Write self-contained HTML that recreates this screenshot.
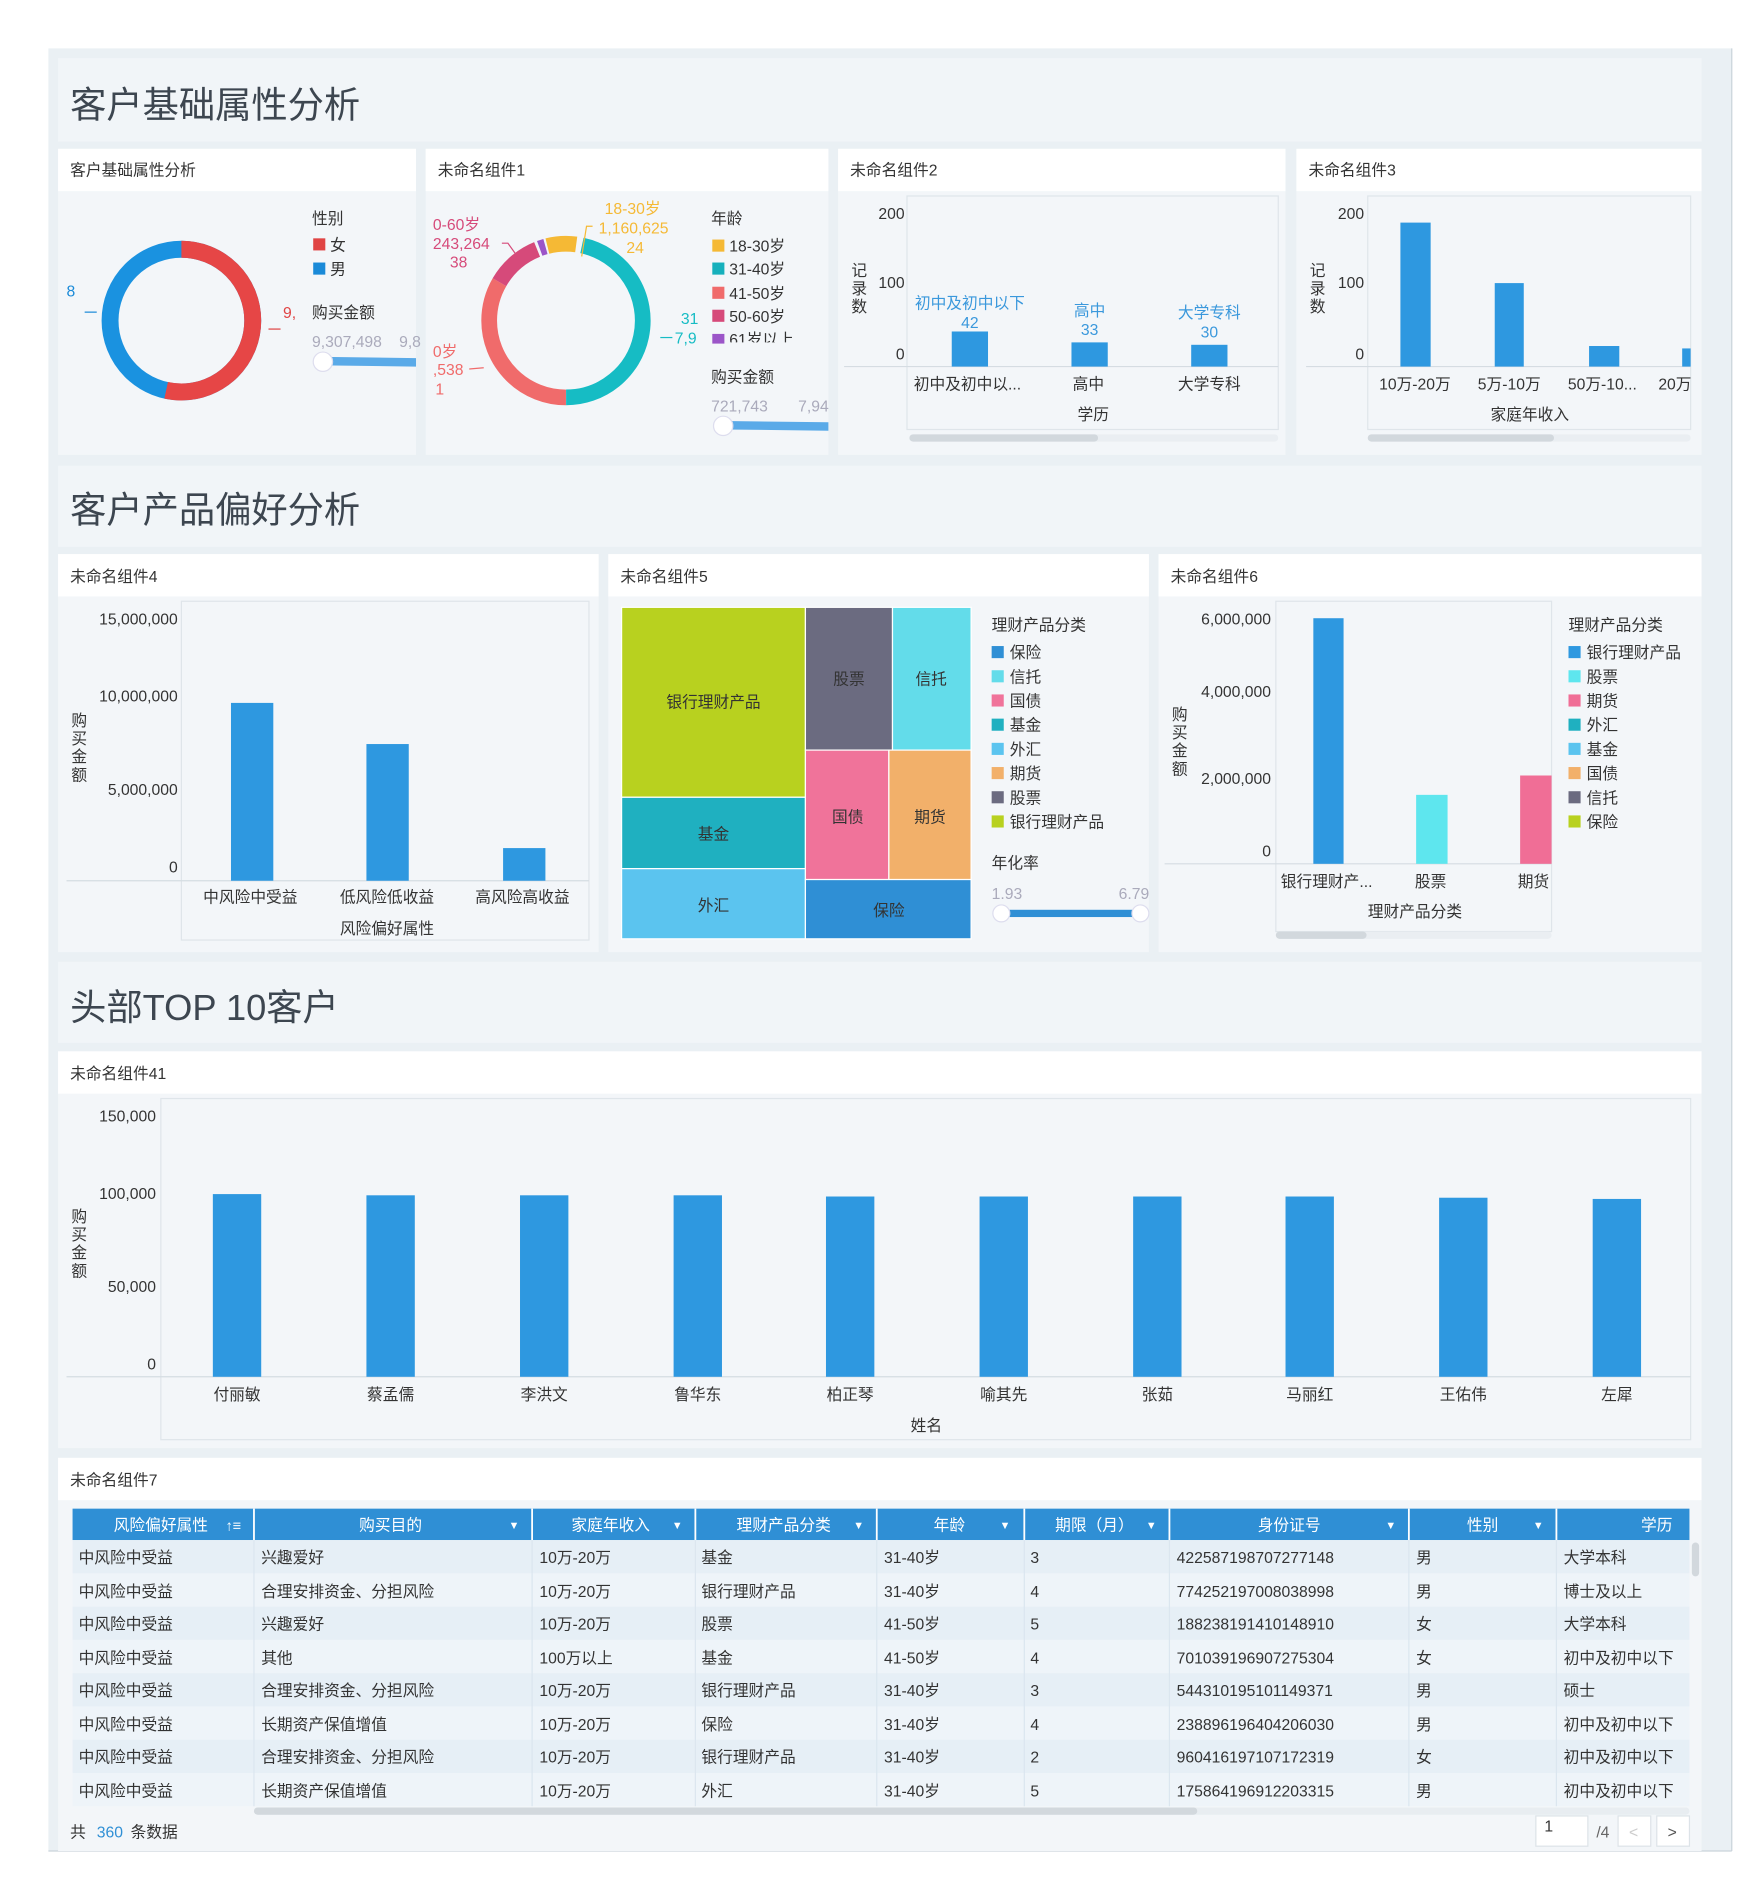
<!DOCTYPE html>
<html><head><meta charset="utf-8"><style>
html,body{margin:0;padding:0;background:#fff;}
svg{display:block;font-family:"Liberation Sans","Noto Sans CJK SC",sans-serif;}
</style></head><body>
<svg width="1762" height="1897" viewBox="0 0 1457 1568" preserveAspectRatio="none" xmlns="http://www.w3.org/2000/svg">
<rect width="1457" height="1568" fill="#fff"/>
<rect x="40" y="40" width="1392" height="1490" fill="#eaf0f4"/>
<line x1="1432" y1="40" x2="1432" y2="1530" stroke="#c9d3da"/>
<line x1="40" y1="1530" x2="1432" y2="1530" stroke="#c9d3da"/>
<!-- section headers -->
<rect x="48" y="48" width="1359" height="69" fill="#f1f5f8"/>
<text x="58" y="97" font-size="30" fill="#3d4650">客户基础属性分析</text>
<rect x="48" y="385" width="1359" height="67" fill="#f1f5f8"/>
<text x="58" y="432" font-size="30" fill="#3d4650">客户产品偏好分析</text>
<rect x="48" y="795" width="1359" height="67" fill="#f1f5f8"/>
<text x="58" y="843" font-size="30" fill="#3d4650">头部TOP 10客户</text>

<g font-size="13" fill="#333">
<rect x="48" y="123" width="296" height="253" fill="#f3f6f9"/><rect x="48" y="123" width="296" height="35" fill="#fff"/>
<text x="58" y="145">客户基础属性分析</text>
<rect x="352" y="123" width="333" height="253" fill="#f3f6f9"/><rect x="352" y="123" width="333" height="35" fill="#fff"/>
<text x="362" y="145">未命名组件1</text>
<rect x="693" y="123" width="370" height="253" fill="#f3f6f9"/><rect x="693" y="123" width="370" height="35" fill="#fff"/>
<text x="703" y="145">未命名组件2</text>
<rect x="1072" y="123" width="335" height="253" fill="#f3f6f9"/><rect x="1072" y="123" width="335" height="35" fill="#fff"/>
<text x="1082" y="145">未命名组件3</text>
<rect x="48" y="458" width="447" height="329" fill="#f3f6f9"/><rect x="48" y="458" width="447" height="35" fill="#fff"/>
<text x="58" y="481">未命名组件4</text>
<rect x="503" y="458" width="447" height="329" fill="#f3f6f9"/><rect x="503" y="458" width="447" height="35" fill="#fff"/>
<text x="513" y="481">未命名组件5</text>
<rect x="958" y="458" width="449" height="329" fill="#f3f6f9"/><rect x="958" y="458" width="449" height="35" fill="#fff"/>
<text x="968" y="481">未命名组件6</text>
<rect x="48" y="869" width="1359" height="328" fill="#f3f6f9"/><rect x="48" y="869" width="1359" height="35" fill="#fff"/>
<text x="58" y="892">未命名组件41</text>
<rect x="48" y="1205" width="1359" height="325" fill="#f3f6f9"/><rect x="48" y="1205" width="1359" height="35" fill="#fff"/>
<text x="58" y="1228">未命名组件7</text>
</g>

<!-- donut 1 -->
<g transform="translate(150,265) rotate(-90)">
<circle r="59" fill="none" stroke="#1a92e0" stroke-width="14"/>
<circle r="59" fill="none" stroke="#e64646" stroke-width="14" stroke-dasharray="198 400"/>
</g>
<g font-size="13">
<text x="258" y="185" fill="#333">性别</text>
<rect x="259" y="197" width="10" height="10" fill="#e04444"/><text x="273" y="207" fill="#333">女</text>
<rect x="259" y="217" width="10" height="10" fill="#1a8ad8"/><text x="273" y="227" fill="#333">男</text>
<text x="258" y="263" fill="#333">购买金额</text>
<text x="234" y="263" fill="#e04444">9,</text>
<text x="55" y="245" fill="#1a8ad8">8</text>
<line x1="70" y1="258" x2="80" y2="258" stroke="#1a8ad8"/>
<line x1="222" y1="272" x2="232" y2="272" stroke="#e04444"/>
<text x="258" y="287" fill="#aab">9,307,498</text><text x="330" y="287" fill="#aab">9,8</text>
<path d="M268 295 L344 296 L344 303 L268 302Z" fill="#5aaae8"/>
<circle cx="267" cy="299" r="8" fill="#fff" stroke="#dde"/>
</g>

<!-- donut 2 -->
<g transform="translate(468,265)" fill="none" stroke-width="13">
<circle r="63.5" stroke="#16bcc4" stroke-dasharray="186 400" transform="rotate(-78)"/>
<circle r="63.5" stroke="#f06b6b" stroke-dasharray="133 400" transform="rotate(90)"/>
<circle r="63.5" stroke="#d64a7a" stroke-dasharray="42 400" transform="rotate(210)"/>
<circle r="63.5" stroke="#9b55c8" stroke-dasharray="5 400" transform="rotate(250)"/>
<circle r="63.5" stroke="#f5b935" stroke-dasharray="24 400" transform="rotate(256)"/>
</g>
<g font-size="13">
<text x="500" y="177" fill="#f5b935">18-30岁</text>
<text x="495" y="193" fill="#f5b935">1,160,625</text>
<text x="518" y="209" fill="#f5b935">24</text>
<path d="M490 187 L485 187 L481 212" stroke="#f5b935" fill="none"/>
<text x="358" y="190" fill="#d64a7a">0-60岁</text>
<text x="358" y="206" fill="#d64a7a">243,264</text>
<text x="372" y="221" fill="#d64a7a">38</text>
<path d="M415 201 L420 201 L430 215" stroke="#d64a7a" fill="none"/>
<text x="358" y="295" fill="#f06b6b">0岁</text>
<text x="358" y="310" fill="#f06b6b">,538</text>
<text x="360" y="326" fill="#f06b6b">1</text>
<path d="M388 305 L400 304" stroke="#f06b6b"/>
<text x="563" y="268" fill="#16bcc4">31</text>
<text x="558" y="284" fill="#16bcc4">7,9</text>
<path d="M546 279 L556 279" stroke="#16bcc4"/>
<text x="588" y="185" fill="#333">年龄</text>
<rect x="589" y="198" width="10" height="10" fill="#f5b935"/><text x="603" y="208" fill="#333">18-30岁</text>
<rect x="589" y="217" width="10" height="10" fill="#16b0bc"/><text x="603" y="227" fill="#333">31-40岁</text>
<rect x="589" y="237" width="10" height="10" fill="#f06b6b"/><text x="603" y="247" fill="#333">41-50岁</text>
<rect x="589" y="256" width="10" height="10" fill="#d64a7a"/><text x="603" y="266" fill="#333">50-60岁</text>
<rect x="589" y="276" width="10" height="8" fill="#9b55c8"/><text x="603" y="285" fill="#333" clip-path="url(#c1)">61岁以上</text>
<text x="588" y="316" fill="#333">购买金额</text>
<text x="588" y="340" fill="#aab">721,743</text><text x="660" y="340" fill="#aab">7,94</text>
<path d="M599 348 L685 349 L685 356 L599 355Z" fill="#5aaae8"/>
<circle cx="598" cy="352" r="8" fill="#fff" stroke="#dde"/>
</g>
<defs><clipPath id="c1"><rect x="600" y="270" width="80" height="13"/></clipPath></defs>

<!-- bar chart 组件2 -->
<g font-size="13" fill="#333">
<rect x="750" y="162" width="307" height="193" fill="none" stroke="#dfe5ea"/>
<line x1="698" y1="303" x2="1057" y2="303" stroke="#d5dce2"/>
<text x="748" y="181" text-anchor="end">200</text>
<text x="748" y="238" text-anchor="end">100</text>
<text x="748" y="297" text-anchor="end">0</text>
<text x="704" y="228">记</text><text x="704" y="243">录</text><text x="704" y="258">数</text>
<rect x="787" y="274" width="30" height="29" fill="#2e98e0"/>
<rect x="886" y="283" width="30" height="20" fill="#2e98e0"/>
<rect x="985" y="285" width="30" height="18" fill="#2e98e0"/>
<g fill="#3a98dc" text-anchor="middle">
<text x="802" y="255">初中及初中以下</text><text x="802" y="271">42</text>
<text x="901" y="261">高中</text><text x="901" y="277">33</text>
<text x="1000" y="263">大学专科</text><text x="1000" y="279">30</text>
</g>
<g text-anchor="middle">
<text x="800" y="322">初中及初中以...</text><text x="900" y="322">高中</text><text x="1000" y="322">大学专科</text>
<text x="904" y="347">学历</text>
</g>
<rect x="752" y="359" width="305" height="6" rx="3" fill="#eaeef2"/>
<rect x="752" y="359" width="156" height="6" rx="3" fill="#d2d8dd"/>
</g>

<!-- bar chart 组件3 -->
<g font-size="13" fill="#333">
<rect x="1131" y="162" width="267" height="193" fill="none" stroke="#dfe5ea"/>
<line x1="1080" y1="303" x2="1398" y2="303" stroke="#d5dce2"/>
<text x="1128" y="181" text-anchor="end">200</text>
<text x="1128" y="238" text-anchor="end">100</text>
<text x="1128" y="297" text-anchor="end">0</text>
<text x="1083" y="228">记</text><text x="1083" y="243">录</text><text x="1083" y="258">数</text>
<rect x="1158" y="184" width="25" height="119" fill="#2e98e0"/>
<rect x="1236" y="234" width="24" height="69" fill="#2e98e0"/>
<rect x="1314" y="286" width="25" height="17" fill="#2e98e0"/>
<rect x="1391" y="288" width="7" height="15" fill="#2e98e0"/>
<g text-anchor="middle">
<text x="1170" y="322">10万-20万</text><text x="1248" y="322">5万-10万</text><text x="1325" y="322">50万-10...</text><text x="1385" y="322">20万</text>
<text x="1265" y="347">家庭年收入</text>
</g>
<rect x="1131" y="359" width="267" height="6" rx="3" fill="#eaeef2"/>
<rect x="1131" y="359" width="154" height="6" rx="3" fill="#d2d8dd"/>
</g>

<!-- 组件4 -->
<g font-size="13" fill="#333">
<rect x="150" y="497" width="337" height="280" fill="none" stroke="#dfe5ea"/>
<line x1="55" y1="728" x2="487" y2="728" stroke="#d5dce2"/>
<text x="147" y="516" text-anchor="end">15,000,000</text>
<text x="147" y="580" text-anchor="end">10,000,000</text>
<text x="147" y="657" text-anchor="end">5,000,000</text>
<text x="147" y="721" text-anchor="end">0</text>
<text x="59" y="600">购</text><text x="59" y="615">买</text><text x="59" y="630">金</text><text x="59" y="645">额</text>
<rect x="191" y="581" width="35" height="147" fill="#2e98e0"/>
<rect x="303" y="615" width="35" height="113" fill="#2e98e0"/>
<rect x="416" y="701" width="35" height="27" fill="#2e98e0"/>
<g text-anchor="middle">
<text x="207" y="746">中风险中受益</text><text x="320" y="746">低风险低收益</text><text x="432" y="746">高风险高收益</text>
<text x="320" y="772">风险偏好属性</text>
</g>
</g>

<!-- treemap -->
<g stroke="#fff" stroke-width="1">
<rect x="514" y="502" width="152" height="157" fill="#b8d11f"/>
<rect x="514" y="659" width="152" height="59" fill="#1fb0c0"/>
<rect x="514" y="718" width="152" height="58" fill="#5bc4ef"/>
<rect x="666" y="502" width="72" height="118" fill="#6b6b80"/>
<rect x="738" y="502" width="65" height="118" fill="#63dcea"/>
<rect x="666" y="620" width="69" height="107" fill="#f0739a"/>
<rect x="735" y="620" width="68" height="107" fill="#f2b06a"/>
<rect x="666" y="727" width="137" height="49" fill="#2f8fd5"/>
</g>
<g font-size="13" fill="#333" text-anchor="middle">
<text x="590" y="585">银行理财产品</text>
<text x="590" y="694">基金</text>
<text x="590" y="753">外汇</text>
<text x="702" y="566">股票</text>
<text x="770" y="566">信托</text>
<text x="701" y="680">国债</text>
<text x="769" y="680">期货</text>
<text x="735" y="757">保险</text>
</g>
<g font-size="13" fill="#333">
<text x="820" y="521">理财产品分类</text>
<rect x="820" y="534" width="10" height="10" fill="#2f8fd5"/><text x="835" y="544">保险</text>
<rect x="820" y="554" width="10" height="10" fill="#63dcea"/><text x="835" y="564">信托</text>
<rect x="820" y="574" width="10" height="10" fill="#f0739a"/><text x="835" y="584">国债</text>
<rect x="820" y="594" width="10" height="10" fill="#1fb0c0"/><text x="835" y="604">基金</text>
<rect x="820" y="614" width="10" height="10" fill="#5bc4ef"/><text x="835" y="624">外汇</text>
<rect x="820" y="634" width="10" height="10" fill="#f2b06a"/><text x="835" y="644">期货</text>
<rect x="820" y="654" width="10" height="10" fill="#6b6b80"/><text x="835" y="664">股票</text>
<rect x="820" y="674" width="10" height="10" fill="#b8d11f"/><text x="835" y="684">银行理财产品</text>
<text x="820" y="718">年化率</text>
<text x="820" y="743" fill="#aab">1.93</text><text x="925" y="743" fill="#aab">6.79</text>
<rect x="828" y="752" width="115" height="6" fill="#2f8fd5"/>
<circle cx="828" cy="755" r="7" fill="#fff" stroke="#dde"/>
<circle cx="943" cy="755" r="7" fill="#fff" stroke="#dde"/>
</g>

<!-- 组件6 -->
<g font-size="13" fill="#333">
<rect x="1055" y="497" width="228" height="273" fill="none" stroke="#dfe5ea"/>
<line x1="963" y1="714" x2="1283" y2="714" stroke="#d5dce2"/>
<text x="1051" y="516" text-anchor="end">6,000,000</text>
<text x="1051" y="576" text-anchor="end">4,000,000</text>
<text x="1051" y="648" text-anchor="end">2,000,000</text>
<text x="1051" y="708" text-anchor="end">0</text>
<text x="969" y="595">购</text><text x="969" y="610">买</text><text x="969" y="625">金</text><text x="969" y="640">额</text>
<rect x="1086" y="511" width="25" height="203" fill="#2e98e0"/>
<rect x="1171" y="657" width="26" height="57" fill="#5ee6ee"/>
<rect x="1257" y="641" width="26" height="73" fill="#f06e96"/>
<g text-anchor="middle">
<text x="1097" y="733">银行理财产...</text><text x="1183" y="733">股票</text><text x="1268" y="733">期货</text>
<text x="1170" y="758">理财产品分类</text>
</g>
<rect x="1055" y="770" width="228" height="6" rx="3" fill="#eaeef2"/>
<rect x="1055" y="770" width="75" height="6" rx="3" fill="#d2d8dd"/>
<text x="1297" y="521">理财产品分类</text>
<rect x="1297" y="534" width="10" height="10" fill="#2e98e0"/><text x="1312" y="544">银行理财产品</text>
<rect x="1297" y="554" width="10" height="10" fill="#5ee6ee"/><text x="1312" y="564">股票</text>
<rect x="1297" y="574" width="10" height="10" fill="#f06e96"/><text x="1312" y="584">期货</text>
<rect x="1297" y="594" width="10" height="10" fill="#1fb0c0"/><text x="1312" y="604">外汇</text>
<rect x="1297" y="614" width="10" height="10" fill="#5bc4ef"/><text x="1312" y="624">基金</text>
<rect x="1297" y="634" width="10" height="10" fill="#f2b06a"/><text x="1312" y="644">国债</text>
<rect x="1297" y="654" width="10" height="10" fill="#6b6b80"/><text x="1312" y="664">信托</text>
<rect x="1297" y="674" width="10" height="10" fill="#b8d11f"/><text x="1312" y="684">保险</text>
</g>

<!-- 组件41 -->
<g font-size="13" fill="#333">
<rect x="133" y="908" width="1265" height="282" fill="none" stroke="#dfe5ea"/>
<line x1="55" y1="1138" x2="1398" y2="1138" stroke="#d5dce2"/>
<text x="129" y="927" text-anchor="end">150,000</text>
<text x="129" y="991" text-anchor="end">100,000</text>
<text x="129" y="1068" text-anchor="end">50,000</text>
<text x="129" y="1132" text-anchor="end">0</text>
<text x="59" y="1010">购</text><text x="59" y="1025">买</text><text x="59" y="1040">金</text><text x="59" y="1055">额</text>
<g fill="#2e98e0">
<rect x="176" y="987" width="40" height="151"/>
<rect x="303" y="988" width="40" height="150"/>
<rect x="430" y="988" width="40" height="150"/>
<rect x="557" y="988" width="40" height="150"/>
<rect x="683" y="989" width="40" height="149"/>
<rect x="810" y="989" width="40" height="149"/>
<rect x="937" y="989" width="40" height="149"/>
<rect x="1063" y="989" width="40" height="149"/>
<rect x="1190" y="990" width="40" height="148"/>
<rect x="1317" y="991" width="40" height="147"/>
</g>
<g text-anchor="middle">
<text x="196" y="1157">付丽敏</text><text x="323" y="1157">蔡孟儒</text><text x="450" y="1157">李洪文</text><text x="577" y="1157">鲁华东</text><text x="703" y="1157">柏正琴</text><text x="830" y="1157">喻其先</text><text x="957" y="1157">张茹</text><text x="1083" y="1157">马丽红</text><text x="1210" y="1157">王佑伟</text><text x="1337" y="1157">左犀</text>
<text x="766" y="1183">姓名</text>
</g>
</g>

<!-- table -->
<rect x="60" y="1247" width="1337" height="26" fill="#2f8fd5"/>
<g stroke="#fff" stroke-width="1.5">
<line x1="210" y1="1247" x2="210" y2="1273"/><line x1="440" y1="1247" x2="440" y2="1273"/><line x1="575" y1="1247" x2="575" y2="1273"/><line x1="725" y1="1247" x2="725" y2="1273"/><line x1="847" y1="1247" x2="847" y2="1273"/><line x1="967" y1="1247" x2="967" y2="1273"/><line x1="1165" y1="1247" x2="1165" y2="1273"/><line x1="1287" y1="1247" x2="1287" y2="1273"/>
</g>
<g font-size="13" fill="#fff" text-anchor="middle">
<text x="133" y="1265">风险偏好属性</text><text x="193" y="1265" font-size="12">↑≡</text>
<text x="323" y="1265">购买目的</text><text x="425" y="1264" font-size="9">▼</text>
<text x="505" y="1265">家庭年收入</text><text x="560" y="1264" font-size="9">▼</text>
<text x="648" y="1265">理财产品分类</text><text x="710" y="1264" font-size="9">▼</text>
<text x="785" y="1265">年龄</text><text x="831" y="1264" font-size="9">▼</text>
<text x="905" y="1265">期限（月）</text><text x="952" y="1264" font-size="9">▼</text>
<text x="1066" y="1265">身份证号</text><text x="1150" y="1264" font-size="9">▼</text>
<text x="1226" y="1265">性别</text><text x="1272" y="1264" font-size="9">▼</text>
<text x="1370" y="1265">学历</text>
</g>
<g>
<rect x="60" y="1273" width="1337" height="27.5" fill="#e6eff6"/>
<rect x="60" y="1300.5" width="1337" height="27.5" fill="#eef4f9"/>
<rect x="60" y="1328" width="1337" height="27.5" fill="#e6eff6"/>
<rect x="60" y="1355.5" width="1337" height="27.5" fill="#eef4f9"/>
<rect x="60" y="1383" width="1337" height="27.5" fill="#e6eff6"/>
<rect x="60" y="1410.5" width="1337" height="27.5" fill="#eef4f9"/>
<rect x="60" y="1438" width="1337" height="27.5" fill="#e6eff6"/>
<rect x="60" y="1465.5" width="1337" height="27.5" fill="#eef4f9"/>
</g>
<g stroke="#dbe6ef">
<line x1="210" y1="1273" x2="210" y2="1493"/><line x1="440" y1="1273" x2="440" y2="1493"/><line x1="575" y1="1273" x2="575" y2="1493"/><line x1="725" y1="1273" x2="725" y2="1493"/><line x1="847" y1="1273" x2="847" y2="1493"/><line x1="967" y1="1273" x2="967" y2="1493"/><line x1="1165" y1="1273" x2="1165" y2="1493"/><line x1="1287" y1="1273" x2="1287" y2="1493"/>
</g>
<g font-size="13" fill="#333">
<g transform="translate(0,1292)">
<text x="65">中风险中受益</text><text x="216">兴趣爱好</text><text x="446">10万-20万</text><text x="580">基金</text><text x="731">31-40岁</text><text x="852">3</text><text x="973">422587198707277148</text><text x="1171">男</text><text x="1293">大学本科</text></g>
<g transform="translate(0,1320)">
<text x="65">中风险中受益</text><text x="216">合理安排资金、分担风险</text><text x="446">10万-20万</text><text x="580">银行理财产品</text><text x="731">31-40岁</text><text x="852">4</text><text x="973">774252197008038998</text><text x="1171">男</text><text x="1293">博士及以上</text></g>
<g transform="translate(0,1347)">
<text x="65">中风险中受益</text><text x="216">兴趣爱好</text><text x="446">10万-20万</text><text x="580">股票</text><text x="731">41-50岁</text><text x="852">5</text><text x="973">188238191410148910</text><text x="1171">女</text><text x="1293">大学本科</text></g>
<g transform="translate(0,1375)">
<text x="65">中风险中受益</text><text x="216">其他</text><text x="446">100万以上</text><text x="580">基金</text><text x="731">41-50岁</text><text x="852">4</text><text x="973">701039196907275304</text><text x="1171">女</text><text x="1293">初中及初中以下</text></g>
<g transform="translate(0,1402)">
<text x="65">中风险中受益</text><text x="216">合理安排资金、分担风险</text><text x="446">10万-20万</text><text x="580">银行理财产品</text><text x="731">31-40岁</text><text x="852">3</text><text x="973">544310195101149371</text><text x="1171">男</text><text x="1293">硕士</text></g>
<g transform="translate(0,1430)">
<text x="65">中风险中受益</text><text x="216">长期资产保值增值</text><text x="446">10万-20万</text><text x="580">保险</text><text x="731">31-40岁</text><text x="852">4</text><text x="973">238896196404206030</text><text x="1171">男</text><text x="1293">初中及初中以下</text></g>
<g transform="translate(0,1457)">
<text x="65">中风险中受益</text><text x="216">合理安排资金、分担风险</text><text x="446">10万-20万</text><text x="580">银行理财产品</text><text x="731">31-40岁</text><text x="852">2</text><text x="973">960416197107172319</text><text x="1171">女</text><text x="1293">初中及初中以下</text></g>
<g transform="translate(0,1485)">
<text x="65">中风险中受益</text><text x="216">长期资产保值增值</text><text x="446">10万-20万</text><text x="580">外汇</text><text x="731">31-40岁</text><text x="852">5</text><text x="973">175864196912203315</text><text x="1171">男</text><text x="1293">初中及初中以下</text></g>
</g>
<rect x="1399" y="1275" width="6" height="28" rx="3" fill="#d2d8dd"/>
<rect x="210" y="1494" width="1187" height="6" rx="3" fill="#e8edf1"/>
<rect x="210" y="1494" width="780" height="6" rx="3" fill="#d2d8dd"/>
<g font-size="13">
<text x="58" y="1519" fill="#333">共</text><text x="80" y="1519" fill="#2f8fd5">360</text><text x="108" y="1519" fill="#333">条数据</text>
<rect x="1270" y="1501" width="43" height="25" fill="#fff" stroke="#dde3e8"/>
<text x="1277" y="1514" fill="#333">1</text>
<text x="1320" y="1519" fill="#666">/4</text>
<rect x="1338" y="1501" width="27" height="25" fill="#fff" stroke="#dde3e8"/><text x="1347" y="1519" fill="#ccc">&lt;</text>
<rect x="1370" y="1501" width="27" height="25" fill="#fff" stroke="#dde3e8"/><text x="1379" y="1519" fill="#555">&gt;</text>
</g>
</svg>
</body></html>
